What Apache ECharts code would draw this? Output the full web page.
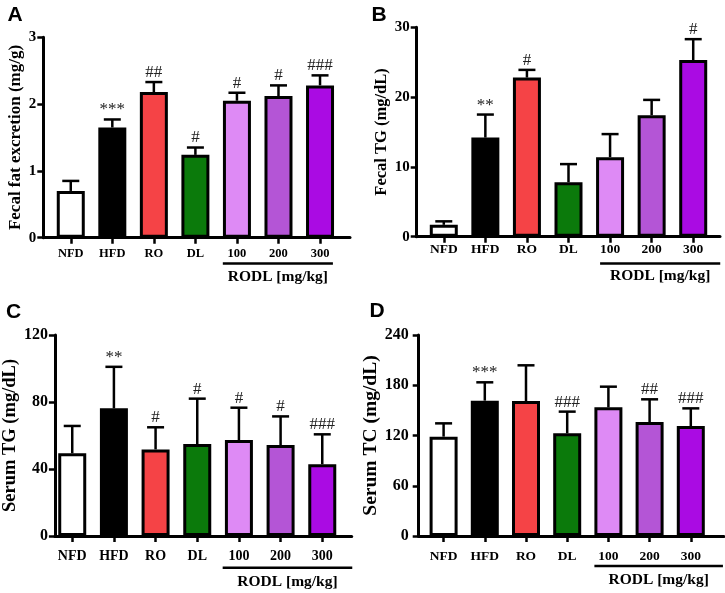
<!DOCTYPE html>
<html>
<head>
<meta charset="utf-8">
<script src="https://cdn.jsdelivr.net/npm/echarts@6/dist/echarts.min.js"></script>
<style>
html, body { margin: 0; padding: 0; background: #fff; }
#chart { width: 725px; height: 593px; }
</style>
</head>
<body>
<div id="chart"></div>
<script>
// groups and colours
var categories = ['NFD', 'HFD', 'RO', 'DL', '100', '200', '300'];
var barColors = ['#ffffff', '#000000', '#f54346', '#0b7a0b', '#de8af5', '#b455d6', '#aa0be3'];
var groupLabel = 'RODL [mg/kg]';

// A - fecal fat excretion (mg/g)
var fecalFatMean = [0.70, 1.65, 2.18, 1.24, 2.05, 2.12, 2.28];
var fecalFatSem = [0.15, 0.12, 0.15, 0.11, 0.12, 0.16, 0.15];
var fecalFatSig = ['', '***', '##', '#', '#', '#', '###'];

// B - fecal TG (mg/dL)
var fecalTgMean = [1.7, 14.2, 22.8, 7.8, 11.4, 17.4, 25.3];
var fecalTgSem = [0.5, 3.3, 1.1, 2.6, 3.3, 2.2, 3.0];
var fecalTgSig = ['', '**', '#', '', '', '', '#'];

// C - serum TG (mg/dL)
var serumTgMean = [49.4, 76.2, 51.7, 54.9, 57.3, 54.3, 42.8];
var serumTgSem = [16.3, 24.8, 13.2, 27.1, 19.3, 17.1, 17.9];
var serumTgSig = ['', '**', '#', '#', '#', '#', '###'];

// D - serum TC (mg/dL)
var serumTcMean = [118.6, 161.6, 161.2, 122.6, 153.6, 136.1, 131.3];
var serumTcSem = [15.9, 21.9, 42.6, 25.9, 24.7, 27.1, 21.1];
var serumTcSig = ['', '***', '', '###', '', '##', '###'];

// y axes
var yNames = ['Fecal fat excretion (mg/g)', 'Fecal TG (mg/dL)', 'Serum TG (mg/dL)', 'Serum TC (mg/dL)'];
var yMax = [3, 30, 120, 240];
var yStep = [1, 10, 40, 60];
var panelLetters = ['A', 'B', 'C', 'D'];

var means = [fecalFatMean, fecalTgMean, serumTgMean, serumTcMean];
var sems = [fecalFatSem, fecalTgSem, serumTgSem, serumTcSem];
var sigs = [fecalFatSig, fecalTgSig, serumTgSig, serumTcSig];

// layout of each panel (pixels)
var layout = [
  { left: 43.3, top: 37.3, width: 306.7, height: 200.4, innerLeft: 50, innerWidth: 290.8,
    yFont: 15, yMargin: 7, nameFont: 17, nameGap: 19.5, xFont: 12.5, xMargin: 10,
    bracket: [0.34, 0.31], lineOff: 25.7, textOff: 39, letter: [15, 15] },
  { left: 416.7, top: 27.3, width: 303.3, height: 209.4, innerLeft: 423, innerWidth: 291,
    yFont: 15, yMargin: 7, nameFont: 16.5, nameGap: 26, xFont: 13.5, xMargin: 6,
    bracket: [0.24, 0.65], lineOff: 26.7, textOff: 39.3, letter: [379, 15] },
  { left: 43.3, top: 335, width: 308.4, height: 201, innerLeft: 51.4, innerWidth: 291.7,
    yFont: 16, yMargin: 7, nameFont: 18.5, nameGap: 22, xFont: 14, xMargin: 13,
    bracket: [0.39, 0.72], lineOff: 31.7, textOff: 45.7, letter: [13.5, 312] },
  { left: 418.7, top: 335, width: 305, height: 201, innerLeft: 423, innerWidth: 288.4,
    yFont: 16, yMargin: 10, nameFont: 19.5, nameGap: 32, xFont: 13.5, xMargin: 14,
    bracket: [0.34, 0.78], lineOff: 30, textOff: 44, letter: [377, 311.5] }
];

var serif = '"Liberation Serif", "Times New Roman", serif';
var grids = [], xAxes = [], yAxes = [], series = [], graphics = [];

layout.forEach(function (L, p) {
  // outer grid: the axis frame
  grids.push({ left: L.left, top: L.top, width: L.width, height: L.height });
  // inner grid: where the bars sit
  grids.push({ left: L.innerLeft, top: L.top, width: L.innerWidth, height: L.height });

  xAxes.push({
    type: 'value', gridIndex: 2 * p, min: 0, max: 1,
    axisLine: { show: true, onZero: false, lineStyle: { color: '#000', width: 3 } },
    axisTick: { show: false }, axisLabel: { show: false }, splitLine: { show: false }
  });
  xAxes.push({
    type: 'category', gridIndex: 2 * p + 1, data: categories,
    axisLine: { show: false },
    axisTick: { show: true, alignWithLabel: true, length: 6, lineStyle: { color: '#000', width: 2.5 } },
    axisLabel: { margin: L.xMargin, color: '#000', fontWeight: 'bold', fontSize: L.xFont, fontFamily: serif },
    splitLine: { show: false }
  });

  yAxes.push({
    type: 'value', gridIndex: 2 * p, min: 0, max: yMax[p], interval: yStep[p],
    name: yNames[p], nameLocation: 'middle', nameGap: L.nameGap,
    nameTextStyle: { color: '#000', fontWeight: 'bold', fontSize: L.nameFont, fontFamily: serif },
    axisLine: { show: true, lineStyle: { color: '#000', width: 3 } },
    axisTick: { show: true, length: 6, lineStyle: { color: '#000', width: 2.5 } },
    axisLabel: { margin: L.yMargin, color: '#000', fontWeight: 'bold', fontSize: L.yFont, fontFamily: serif },
    splitLine: { show: false }
  });
  yAxes.push({
    type: 'value', gridIndex: 2 * p + 1, min: 0, max: yMax[p], interval: yStep[p], show: false
  });

  var mean = means[p], sem = sems[p], sig = sigs[p];

  series.push({
    type: 'bar', xAxisIndex: 2 * p + 1, yAxisIndex: 2 * p + 1,
    barWidth: 28, silent: true,
    itemStyle: { borderColor: '#000', borderWidth: 3 },
    data: mean.map(function (v, i) { return { value: v, itemStyle: { color: barColors[i] } }; })
  });

  // error bars (upper SEM) and significance marks
  series.push({
    type: 'custom', xAxisIndex: 2 * p + 1, yAxisIndex: 2 * p + 1, silent: true, z: 3,
    data: mean.map(function (v, i) { return [i, v, sem[i]]; }),
    encode: { x: 0, y: 1 },
    renderItem: function (params, api) {
      var i = params.dataIndex;
      var m = api.value(1), e = api.value(2);
      var base = api.coord([i, m]);
      var top = api.coord([i, m + e]);
      var children = [
        { type: 'line', shape: { x1: base[0], y1: base[1], x2: top[0], y2: top[1] },
          style: { stroke: '#000', lineWidth: 2.5 } },
        { type: 'line', shape: { x1: top[0] - 8.5, y1: top[1], x2: top[0] + 8.5, y2: top[1] },
          style: { stroke: '#000', lineWidth: 2.5 } }
      ];
      if (sig[i]) {
        children.push({
          type: 'text', x: top[0], y: top[1] - 1,
          style: { text: sig[i], fill: '#222', fontSize: 17, fontFamily: serif,
                   align: 'center', verticalAlign: 'bottom' }
        });
      }
      return { type: 'group', children: children };
    }
  });

  // RODL dose bracket under 100 / 200 / 300
  series.push({
    type: 'custom', xAxisIndex: 2 * p + 1, yAxisIndex: 2 * p + 1, silent: true, clip: false,
    data: [[4, 0]],
    encode: { x: 0, y: 1 },
    renderItem: function (params, api) {
      var a = api.coord([4, 0]);
      var b = api.coord([6, 0]);
      var band = api.size([1, 0])[0];
      var x1 = a[0] - L.bracket[0] * band;
      var x2 = b[0] + L.bracket[1] * band;
      var y = a[1] + L.lineOff;
      return {
        type: 'group',
        children: [
          { type: 'line', shape: { x1: x1, y1: y, x2: x2, y2: y },
            style: { stroke: '#000', lineWidth: 2.5 } },
          { type: 'text', x: (x1 + x2) / 2, y: a[1] + L.textOff,
            style: { text: groupLabel, fill: '#000', fontWeight: 'bold', fontSize: 15.5,
                     fontFamily: serif, align: 'center', verticalAlign: 'middle' } }
        ]
      };
    }
  });

  graphics.push({
    type: 'text', x: L.letter[0], y: L.letter[1],
    style: { text: panelLetters[p], fill: '#000', fontWeight: 'bold', fontSize: 21,
             fontFamily: '"Liberation Sans", Arial, sans-serif', align: 'center', verticalAlign: 'middle' }
  });
});

var chart = echarts.init(document.getElementById('chart'));
chart.setOption({
  animation: false,
  backgroundColor: '#fff',
  grid: grids,
  xAxis: xAxes,
  yAxis: yAxes,
  series: series,
  graphic: graphics
});
</script>
</body>
</html>
